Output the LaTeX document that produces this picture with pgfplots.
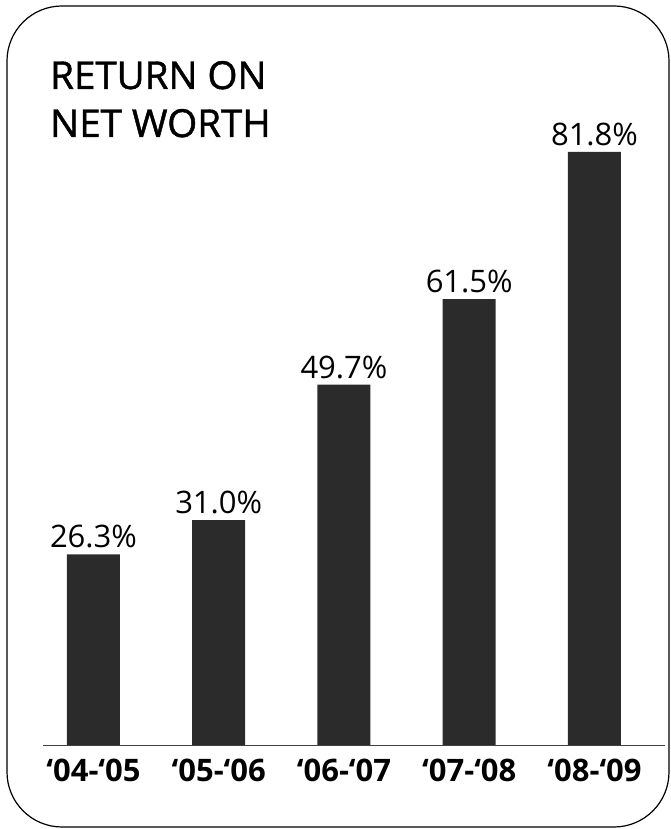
\documentclass[border=0pt]{standalone}
\usepackage{fontspec}
\setmainfont{Open Sans}
\newfontfamily\titlefont[BoldFont={Open Sans}, BoldFeatures={FakeBold=1.2}]{Open Sans}
\usepackage{pgfplots}
\pgfplotsset{compat=1.18}
\begin{document}
\begin{tikzpicture}[x=1pt,y=1pt]
\path (0,0) rectangle (670,829);
\draw[line width=1.2pt, rounded corners=55pt] (7,823) rectangle (669,2);
\node[anchor=base west, inner sep=0pt, font=\titlefont\bfseries\fontsize{38.5}{40}\selectfont] at (50,740) {RETURN ON};
\node[anchor=base west, inner sep=0pt, font=\titlefont\bfseries\fontsize{38.5}{40}\selectfont] at (50,692) {NET WORTH};
\begin{axis}[
  at={(43pt,84pt)}, anchor=south west, scale only axis,
  width=622pt, height=652.5pt,
  xmin=-0.403, xmax=4.563, ymin=0, ymax=90,
  axis y line=none, axis x line=bottom,
  x axis line style={-, line width=0.8pt, color=black!75},
  ytick=\empty,
  xtick={0,1,2,3,4},
  xticklabels={‘04-‘05,‘05-‘06,‘06-‘07,‘07-‘08,‘08-‘09},
  major tick length=0pt,
  xticklabel style={font=\fontsize{31}{34}\selectfont\bfseries, inner sep=0pt, yshift=-14pt},
  ybar, bar width=53pt, bar shift=0pt,
  point meta=explicit symbolic,
  nodes near coords,
  nodes near coords style={font=\fontsize{31}{34}\selectfont, anchor=south, inner sep=0pt, yshift=6pt, color=black},
  clip=false,
]
\addplot[fill=black!83, draw=none] coordinates {
  (0,26.3) [26.3\%]
  (1,31.0) [31.0\%]
  (2,49.7) [49.7\%]
  (3,61.5) [61.5\%]
  (4,81.8) [81.8\%]
};
\end{axis}
\end{tikzpicture}
\end{document}
